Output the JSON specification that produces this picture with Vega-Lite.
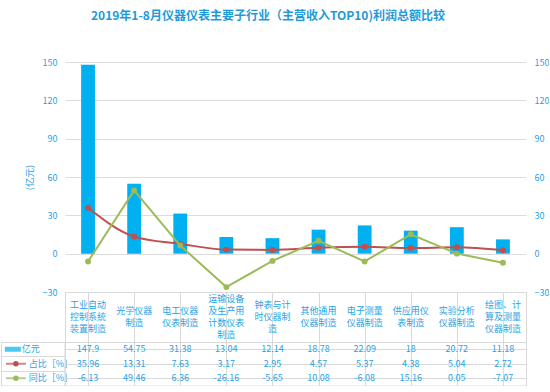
{
  "$schema": "https://vega.github.io/schema/vega-lite/v6.json",
  "padding": {"top": 10, "left": 0, "right": 0, "bottom": 0},
  "autosize": {"type": "pad"},
  "background": "white",
  "title": {
    "text": "2019年1-8月仪器仪表主要子行业（主营收入TOP10)利润总额比较",
    "fontSize": 12,
    "fontWeight": "bold",
    "color": "#1e9ad9",
    "font": "Noto Sans CJK SC",
    "anchor": "start",
    "frame": "group",
    "dx": 90,
    "offset": 35
  },
  "datasets": {
    "d": [
      {"cat": "工业自动控制系统装置制造", "label": "工业自动\n控制系统\n装置制造", "v": 147.9, "zb": 35.96, "tb": -6.13},
      {"cat": "光学仪器制造", "label": "光学仪器\n制造", "v": 54.75, "zb": 13.31, "tb": 49.46},
      {"cat": "电工仪器仪表制造", "label": "电工仪器\n仪表制造", "v": 31.38, "zb": 7.63, "tb": 6.36},
      {"cat": "运输设备及生产用计数仪表制造", "label": "运输设备\n及生产用\n计数仪表\n制造", "v": 13.04, "zb": 3.17, "tb": -26.16},
      {"cat": "钟表与计时仪器制造", "label": "钟表与计\n时仪器制\n造", "v": 12.14, "zb": 2.95, "tb": -5.65},
      {"cat": "其他通用仪器制造", "label": "其他通用\n仪器制造", "v": 18.78, "zb": 4.57, "tb": 10.08},
      {"cat": "电子测量仪器制造", "label": "电子测量\n仪器制造", "v": 22.09, "zb": 5.37, "tb": -6.08},
      {"cat": "供应用仪表制造", "label": "供应用仪\n表制造", "v": 18, "zb": 4.38, "tb": 15.16},
      {"cat": "实验分析仪器制造", "label": "实验分析\n仪器制造", "v": 20.72, "zb": 5.04, "tb": 0.05},
      {"cat": "绘图、计算及测量仪器制造", "label": "绘图、计\n算及测量\n仪器制造", "v": 11.18, "zb": 2.72, "tb": -7.07}
    ],
    "h": [
      {"key": "v", "name": "亿元"},
      {"key": "zb", "name": "占比［%］"},
      {"key": "tb", "name": "同比［%］"}
    ]
  },
  "config": {
    "font": "Noto Sans CJK SC",
    "view": {"stroke": null},
    "concat": {"spacing": 0},
    "axis": {"labelFont": "Noto Sans CJK SC", "titleFont": "Noto Sans CJK SC"}
  },
  "columns": 2,
  "bounds": "flush",
  "align": "each",
  "spacing": 0,
  "concat": [
    {
      "width": 63.5,
      "height": 230,
      "data": {"values": [{}]},
      "mark": {"type": "text", "text": ""}
    },
    {
      "width": 461,
      "height": 230,
      "data": {"name": "d"},
      "encoding": {
        "x": {"field": "cat", "type": "nominal", "sort": null, "scale": {"paddingInner": 0, "paddingOuter": 0}, "axis": null}
      },
      "layer": [
        {
          "mark": {"type": "bar", "color": "#00b0f0", "width": {"band": 0.3}},
          "encoding": {
            "y": {
              "field": "v", "type": "quantitative",
              "scale": {"domain": [-30, 150], "nice": false, "zero": false},
              "axis": {
                "orient": "left", "values": [-30, 0, 30, 60, 90, 120, 150],
                "title": "(亿元)", "titleColor": "#1fa3e6", "titleFontSize": 9.5, "titleFontWeight": "normal", "titlePadding": 8,
                "labelColor": "#1fa3e6", "labelFontSize": 9, "labelPadding": 8,
                "ticks": false, "domain": false, "grid": true, "gridColor": "#dcdcdc"
              }
            }
          }
        },
        {
          "encoding": {
            "y": {
              "type": "quantitative",
              "scale": {"domain": [-30, 150], "nice": false, "zero": false},
              "axis": {
                "orient": "right", "values": [-30, 0, 30, 60, 90, 120, 150], "title": null,
                "labelColor": "#1fa3e6", "labelFontSize": 9, "labelPadding": 8,
                "ticks": false, "domain": false, "grid": false
              }
            }
          },
          "layer": [
            {
              "mark": {"type": "line", "color": "#c0504d", "strokeWidth": 2, "interpolate": "monotone"},
              "encoding": {"y": {"field": "zb"}}
            },
            {
              "mark": {"type": "point", "filled": true, "color": "#c0504d", "size": 35, "opacity": 1},
              "encoding": {"y": {"field": "zb"}}
            },
            {
              "mark": {"type": "line", "color": "#9bbb59", "strokeWidth": 2},
              "encoding": {"y": {"field": "tb"}}
            },
            {
              "mark": {"type": "point", "filled": true, "color": "#9bbb59", "size": 35, "opacity": 1},
              "encoding": {"y": {"field": "tb"}}
            }
          ]
        }
      ],
      "resolve": {"scale": {"y": "independent"}}
    },
    {
      "width": 63.5,
      "height": 50,
      "data": {"values": [{}]},
      "mark": {"type": "text", "text": ""}
    },
    {
      "width": 461,
      "height": 50,
      "view": {"stroke": "#d9d9d9"},
      "data": {"name": "d"},
      "encoding": {
        "x": {
          "field": "cat", "type": "nominal",
          "scale": {
            "domain": ["工业自动控制系统装置制造", "光学仪器制造", "电工仪器仪表制造", "运输设备及生产用计数仪表制造", "钟表与计时仪器制造", "其他通用仪器制造", "电子测量仪器制造", "供应用仪表制造", "实验分析仪器制造", "绘图、计算及测量仪器制造"],
            "paddingInner": 0, "paddingOuter": 0
          },
          "axis": {"labels": false, "ticks": false, "domain": false, "title": null, "grid": true, "gridColor": "#d9d9d9", "bandPosition": 0}
        },
        "text": {"field": "label", "type": "nominal"}
      },
      "layer": [
        {
          "transform": [{"filter": "length(split(datum.label, '\\n')) == 2"}],
          "mark": {"type": "text", "lineBreak": "\n", "fontSize": 9, "lineHeight": 12, "color": "#1fa3e6", "baseline": "middle", "align": "center", "dy": -6}
        },
        {
          "transform": [{"filter": "length(split(datum.label, '\\n')) == 3"}],
          "mark": {"type": "text", "lineBreak": "\n", "fontSize": 9, "lineHeight": 12, "color": "#1fa3e6", "baseline": "middle", "align": "center", "dy": -12}
        },
        {
          "transform": [{"filter": "length(split(datum.label, '\\n')) == 4"}],
          "mark": {"type": "text", "lineBreak": "\n", "fontSize": 9, "lineHeight": 12, "color": "#1fa3e6", "baseline": "middle", "align": "center", "dy": -18}
        }
      ]
    },
    {
      "width": 63.5,
      "height": 43.5,
      "view": {"stroke": "#d9d9d9"},
      "data": {"name": "h"},
      "encoding": {
        "y": {
          "field": "key", "type": "nominal",
          "scale": {"domain": ["v", "zb", "tb"], "paddingInner": 0, "paddingOuter": 0},
          "axis": {"labels": false, "ticks": false, "domain": false, "title": null, "grid": true, "gridColor": "#d9d9d9", "bandPosition": 0}
        }
      },
      "layer": [
        {
          "transform": [{"filter": "datum.key === 'v'"}],
          "mark": {"type": "tick", "orient": "horizontal", "thickness": 5, "size": 16, "color": "#00b0f0", "xOffset": -4},
          "encoding": {"x": {"datum": "s", "type": "nominal", "scale": {"domain": ["s", "t"], "paddingInner": 0, "paddingOuter": 0}, "axis": null}}
        },
        {
          "transform": [{"filter": "datum.key !== 'v'"}],
          "mark": {"type": "tick", "orient": "horizontal", "thickness": 2, "size": 20, "xOffset": -1},
          "encoding": {
            "x": {"datum": "s", "type": "nominal"},
            "color": {"field": "key", "type": "nominal", "scale": {"domain": ["v", "zb", "tb"], "range": ["#00b0f0", "#c0504d", "#9bbb59"]}, "legend": null}
          }
        },
        {
          "transform": [{"filter": "datum.key !== 'v'"}],
          "mark": {"type": "point", "filled": true, "size": 30, "opacity": 1, "xOffset": -1},
          "encoding": {
            "x": {"datum": "s", "type": "nominal"},
            "color": {"field": "key", "type": "nominal", "legend": null}
          }
        },
        {
          "transform": [{"filter": "datum.key === 'v'"}],
          "mark": {"type": "text", "align": "left", "baseline": "middle", "fontSize": 9, "color": "#1fa3e6", "dx": -27},
          "encoding": {"x": {"datum": "t", "type": "nominal"}, "text": {"field": "name", "type": "nominal"}}
        },
        {
          "transform": [{"filter": "datum.key !== 'v'"}],
          "mark": {"type": "text", "align": "left", "baseline": "middle", "fontSize": 9, "color": "#1fa3e6", "dx": -20},
          "encoding": {"x": {"datum": "t", "type": "nominal"}, "text": {"field": "name", "type": "nominal"}}
        }
      ]
    },
    {
      "width": 461,
      "height": 43.5,
      "view": {"stroke": "#d9d9d9"},
      "data": {"name": "d"},
      "transform": [{"fold": ["v", "zb", "tb"], "as": ["key", "value"]}],
      "mark": {"type": "text", "fontSize": 9, "color": "#1fa3e6", "baseline": "middle", "align": "center"},
      "encoding": {
        "x": {
          "field": "cat", "type": "nominal", "sort": null, "scale": {"paddingInner": 0, "paddingOuter": 0},
          "axis": {"labels": false, "ticks": false, "domain": false, "title": null, "grid": true, "gridColor": "#d9d9d9", "bandPosition": 0}
        },
        "y": {
          "field": "key", "type": "nominal",
          "scale": {"domain": ["v", "zb", "tb"], "paddingInner": 0, "paddingOuter": 0},
          "axis": {"labels": false, "ticks": false, "domain": false, "title": null, "grid": true, "gridColor": "#d9d9d9", "bandPosition": 0}
        },
        "text": {"field": "value", "type": "nominal"}
      }
    }
  ]
}
